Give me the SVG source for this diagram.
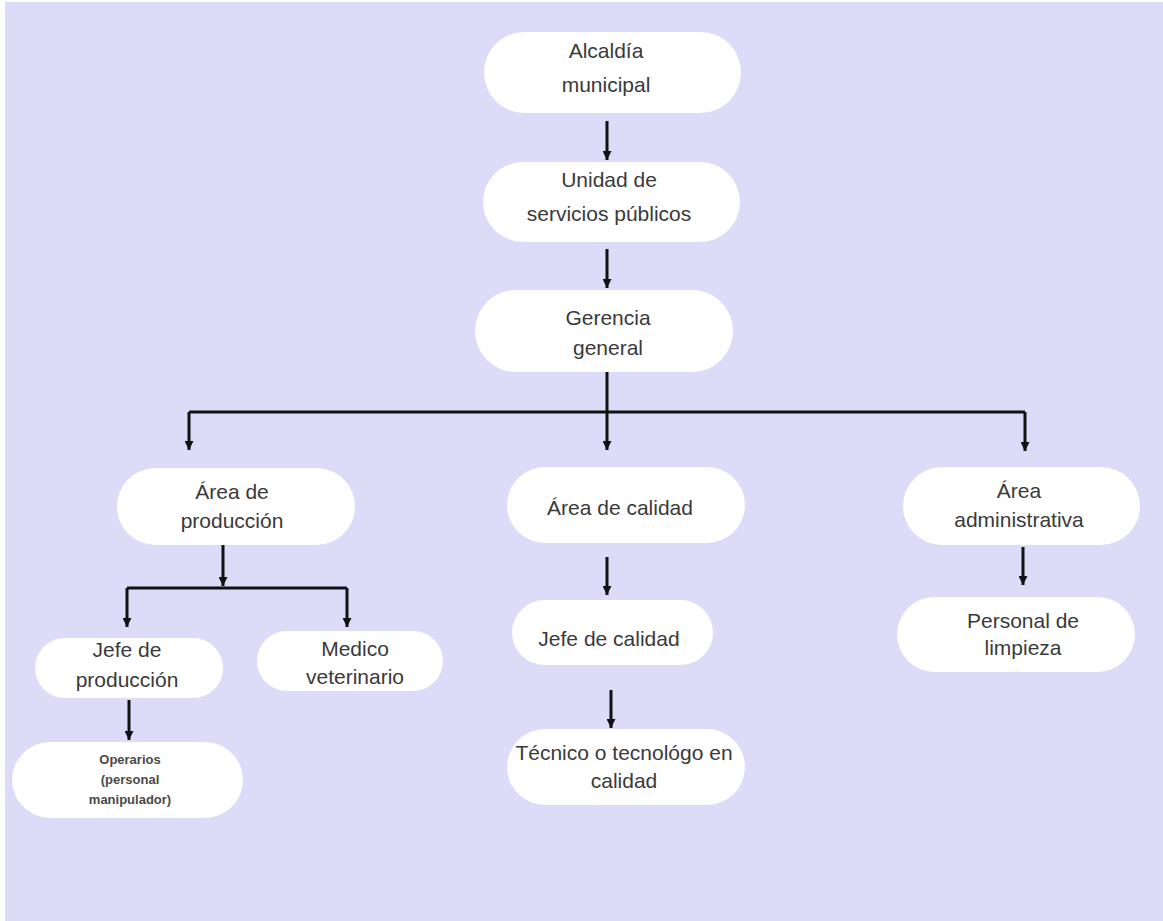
<svg xmlns="http://www.w3.org/2000/svg" width="1163" height="921" viewBox="0 0 1163 921">
  <defs>
    <marker id="ah" viewBox="0 0 10 10" refX="10" refY="5" markerWidth="9" markerHeight="9" markerUnits="userSpaceOnUse" orient="auto">
      <path d="M0,0 L10,5 L0,10 z" fill="#111"/>
    </marker>
    <style>
      .box { fill: #FFFFFF; }
      .t { font-family: "Liberation Sans", Arial, sans-serif; font-size: 21px; fill: #3a3a3a; text-anchor: middle; }
      .s { font-family: "Liberation Sans", Arial, sans-serif; font-size: 13px; font-weight: bold; fill: #4a4a4a; text-anchor: middle; }
      .c { stroke: #111; stroke-width: 3; fill: none; }
      .a { stroke: #111; stroke-width: 3; fill: none; marker-end: url(#ah); }
    </style>
  </defs>
  <rect x="0" y="0" width="1163" height="921" fill="#FFFFFF"/>
  <rect x="5" y="2" width="1158" height="919" fill="#DEDBF9"/>

  <g id="connectors">
    <line class="a" x1="607" y1="121" x2="607" y2="160"/>
    <line class="a" x1="607" y1="249" x2="607" y2="288"/>
    <line class="a" x1="607" y1="372" x2="607" y2="450"/>
    <path class="c" d="M189,412 L1025,412" stroke-width="3.5"/>
    <line class="a" x1="189" y1="412" x2="189" y2="450"/>
    <line class="a" x1="1025" y1="412" x2="1025" y2="451"/>
    <line class="a" x1="223" y1="545" x2="223" y2="586"/>
    <path class="c" d="M127,588 L347,588"/>
    <line class="a" x1="127" y1="588" x2="127" y2="627"/>
    <line class="a" x1="347" y1="588" x2="347" y2="627"/>
    <line class="a" x1="129" y1="700" x2="129" y2="740"/>
    <line class="a" x1="607" y1="557" x2="607" y2="595"/>
    <line class="a" x1="611" y1="690" x2="611" y2="728"/>
    <line class="a" x1="1023" y1="547" x2="1023" y2="585"/>
  </g>

  <g id="alcaldia">
    <rect class="box" x="484" y="32" width="257" height="81" rx="40.5"/>
    <text class="t" x="606" y="58">Alcaldía</text>
    <text class="t" x="606" y="92">municipal</text>
  </g>
  <g id="unidad">
    <rect class="box" x="483" y="162" width="257" height="80" rx="40"/>
    <text class="t" x="609" y="187">Unidad de</text>
    <text class="t" x="609" y="221">servicios públicos</text>
  </g>
  <g id="gerencia">
    <rect class="box" x="475" y="290" width="258" height="82" rx="41"/>
    <text class="t" x="608" y="325">Gerencia</text>
    <text class="t" x="608" y="355">general</text>
  </g>
  <g id="area-produccion">
    <rect class="box" x="117" y="468" width="238" height="77" rx="38.5"/>
    <text class="t" x="232" y="499">Área de</text>
    <text class="t" x="232" y="528">producción</text>
  </g>
  <g id="area-calidad">
    <rect class="box" x="507" y="467" width="238" height="76" rx="38"/>
    <text class="t" x="620" y="515">Área de calidad</text>
  </g>
  <g id="area-administrativa">
    <rect class="box" x="903" y="467" width="237" height="78" rx="39"/>
    <text class="t" x="1019" y="498">Área</text>
    <text class="t" x="1019" y="527">administrativa</text>
  </g>
  <g id="jefe-produccion">
    <rect class="box" x="35" y="638" width="188" height="60" rx="30"/>
    <text class="t" x="127" y="657">Jefe de</text>
    <text class="t" x="127" y="687">producción</text>
  </g>
  <g id="medico-veterinario">
    <rect class="box" x="257" y="631" width="186" height="60" rx="30"/>
    <text class="t" x="355" y="656">Medico</text>
    <text class="t" x="355" y="684">veterinario</text>
  </g>
  <g id="operarios">
    <rect class="box" x="12" y="742" width="231" height="76" rx="38"/>
    <text class="s" x="130" y="764">Operarios</text>
    <text class="s" x="130" y="784">(personal</text>
    <text class="s" x="130" y="804">manipulador)</text>
  </g>
  <g id="jefe-calidad">
    <rect class="box" x="512" y="600" width="201" height="65" rx="32.5"/>
    <text class="t" x="609" y="646">Jefe de calidad</text>
  </g>
  <g id="tecnico">
    <rect class="box" x="507" y="729" width="238" height="76" rx="38"/>
    <text class="t" x="624" y="760">Técnico o tecnológo en</text>
    <text class="t" x="624" y="788">calidad</text>
  </g>
  <g id="personal-limpieza">
    <rect class="box" x="897" y="597" width="238" height="75" rx="37.5"/>
    <text class="t" x="1023" y="628">Personal de</text>
    <text class="t" x="1023" y="655">limpieza</text>
  </g>
</svg>
